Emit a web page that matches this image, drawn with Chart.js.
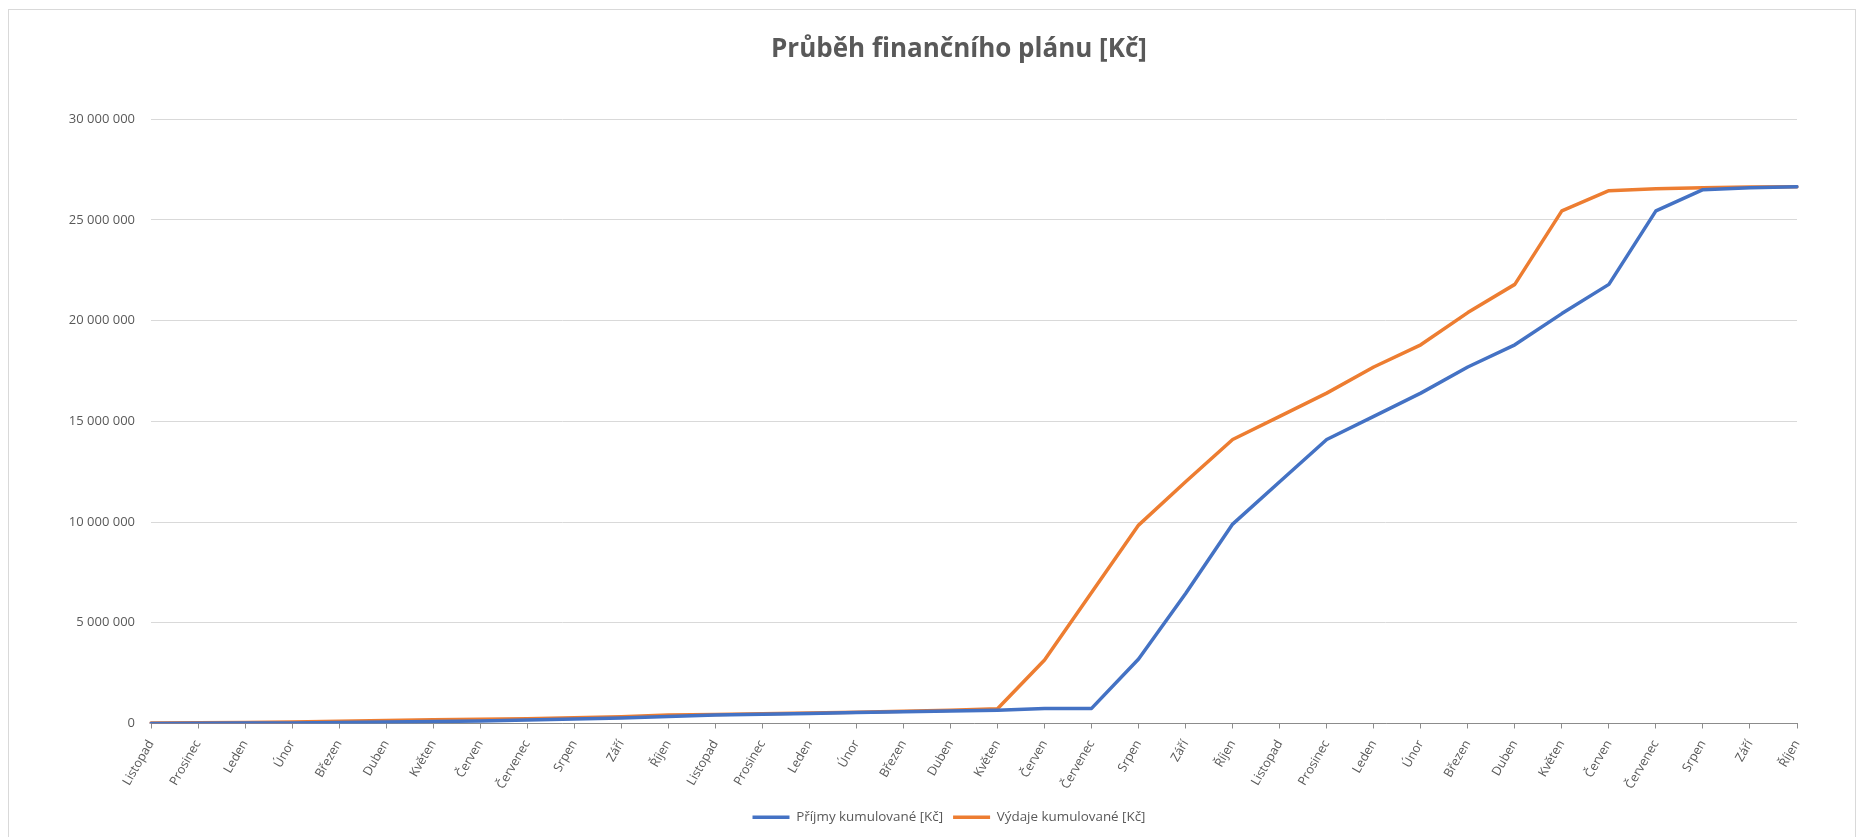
<!DOCTYPE html>
<html lang="cs">
<head>
<meta charset="utf-8">
<title>Průběh finančního plánu</title>
<script src="https://cdn.jsdelivr.net/npm/chart.js@4/dist/chart.umd.min.js"></script>
<style>
  html, body { margin: 0; padding: 0; background: #fff; }
  #frame {
    position: absolute; left: 8px; top: 9px; width: 1848px; height: 840px;
    border: 1px solid #d9d9d9; box-sizing: border-box;
  }
  #wrap { position: absolute; left: 0; top: 0; width: 1865px; height: 837px; }
</style>
</head>
<body>
<div id="frame"></div>
<div id="wrap"><canvas id="chart" width="1865" height="837"></canvas></div>
<script>
// Months of the plan (three consecutive years, November to October)
const months = [
  'Listopad', 'Prosinec', 'Leden', 'Únor', 'Březen', 'Duben', 'Květen', 'Červen', 'Červenec', 'Srpen', 'Září', 'Říjen',
  'Listopad', 'Prosinec', 'Leden', 'Únor', 'Březen', 'Duben', 'Květen', 'Červen', 'Červenec', 'Srpen', 'Září', 'Říjen',
  'Listopad', 'Prosinec', 'Leden', 'Únor', 'Březen', 'Duben', 'Květen', 'Červen', 'Červenec', 'Srpen', 'Září', 'Říjen'
];

// Cumulative income [Kč]
const prijmyKumulovane = [
  0, 10000, 20000, 30000, 50000, 80000, 100000, 130000, 170000, 220000, 270000, 350000,
  420000, 460000, 500000, 540000, 580000, 620000, 660000, 740000, 750000, 3200000, 6450000, 9900000,
  12000000, 14100000, 15250000, 16400000, 17700000, 18800000, 20350000, 21800000, 25450000, 26500000, 26600000, 26650000
];

// Cumulative expenses [Kč]
const vydajeKumulovane = [
  30000, 40000, 50000, 70000, 110000, 150000, 180000, 210000, 240000, 280000, 330000, 420000,
  450000, 480000, 520000, 560000, 610000, 660000, 730000, 3150000, 6500000, 9850000, 12000000, 14100000,
  15250000, 16400000, 17700000, 18800000, 20400000, 21800000, 25450000, 26450000, 26550000, 26600000, 26630000, 26650000
];

// Value axis
const yMin = 0;
const yMax = 30000000;
const yStep = 5000000;

const FONT = "'Open Sans', 'Noto Sans', sans-serif";
const TEXT = '#595959';

// Vertical layout of the lower part of the canvas
const CANVAS_H = 837;
const PLOT_BOTTOM = 723.5;
const PAD_BOTTOM = 3;
const LEGEND_FONT = 13.4;
const LEGEND_PAD = 10;

// "30000000" -> "30 000 000"
const fmt = v => String(v).replace(/\B(?=(\d{3})+(?!\d))/g, ' ');

// Centre the title and the legend over the plot rather than over the whole canvas.
const centreBlocks = {
  id: 'centreBlocks',
  afterLayout(chart) {
    const area = chart.chartArea;
    if (chart.titleBlock) {
      chart.titleBlock.left = area.left - 30;
      chart.titleBlock.right = area.right;
    }
    if (chart.legend) {
      chart.legend.left = area.left - 50;
      chart.legend.right = area.right;
    }
  }
};

new Chart(document.getElementById('chart'), {
  type: 'line',
  data: {
    labels: months,
    datasets: [
      {
        label: 'Příjmy kumulované [Kč]',
        data: prijmyKumulovane,
        borderColor: '#4472C4',
        backgroundColor: '#4472C4'
      },
      {
        label: 'Výdaje kumulované [Kč]',
        data: vydajeKumulovane,
        borderColor: '#ED7D31',
        backgroundColor: '#ED7D31'
      }
    ]
  },
  plugins: [centreBlocks],
  options: {
    responsive: false,
    animation: false,
    devicePixelRatio: 1,
    layout: { padding: { left: 0, right: 68, top: 0, bottom: PAD_BOTTOM } },
    elements: {
      point: { radius: 0, hoverRadius: 0 },
      line: { tension: 0, borderWidth: 3.5, borderJoinStyle: 'round', borderCapStyle: 'round' }
    },
    plugins: {
      title: {
        display: true,
        text: 'Průběh finančního plánu [Kč]',
        color: TEXT,
        font: { family: FONT, size: 26, weight: 'bold' },
        padding: { top: 34, bottom: 54 }
      },
      legend: {
        position: 'bottom',
        labels: {
          color: TEXT,
          font: { family: FONT, size: LEGEND_FONT },
          boxWidth: 37,
          boxHeight: 3.5,
          padding: LEGEND_PAD,
          generateLabels: chart =>
            Chart.defaults.plugins.legend.labels.generateLabels(chart)
              .map(item => Object.assign(item, { lineWidth: 0 }))
        }
      },
      tooltip: { enabled: false }
    },
    scales: {
      x: {
        grid: { drawOnChartArea: false, drawTicks: true, tickLength: 5, color: '#8c8c8c' },
        border: { color: '#8c8c8c', width: 1 },
        ticks: {
          autoSkip: false, minRotation: 60, maxRotation: 60,
          color: TEXT, font: { family: FONT, size: 12.5 }, padding: 9
        },
        // keeps the plot bottom fixed below the legend
        afterFit: scale => {
          const legendH = LEGEND_FONT + LEGEND_PAD + 10;
          scale.height = CANVAS_H - PAD_BOTTOM - legendH - PLOT_BOTTOM;
        }
      },
      y: {
        min: yMin,
        max: yMax,
        ticks: {
          stepSize: yStep,
          color: TEXT,
          font: { family: FONT, size: 13 },
          padding: 16,
          callback: v => fmt(v)
        },
        grid: { color: '#d9d9d9', drawTicks: false },
        border: { display: false },
        afterFit: scale => { scale.width = 151; }
      }
    }
  }
});
</script>
</body>
</html>
